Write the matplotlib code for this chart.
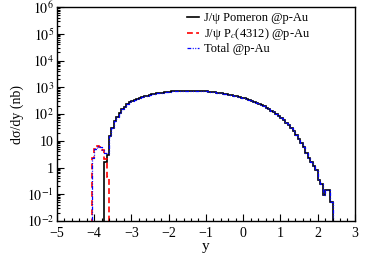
import numpy as np
import matplotlib
matplotlib.use("Agg")
import matplotlib.pyplot as plt
from matplotlib.ticker import FixedLocator, LogLocator, NullFormatter, MultipleLocator

plt.rcParams['font.family'] = ['Liberation Serif', 'DejaVu Serif']
plt.rcParams['mathtext.fontset'] = 'stix'

# binning of the histograms (120 bins over -5..3)
y_min, y_max, n_bins = -5.0, 3.0, 120

# J/psi Pomeron: first non-empty bin index and values
pom_start = 19
pom_values = [
    1.6, 3.0, 15, 30, 55, 80, 110, 150, 185, 230,
    270, 300, 335, 370, 400, 430, 460, 490, 515, 540,
    565, 590, 610, 630, 650, 665, 680, 695, 705, 715,
    725, 732, 738, 742, 745, 745, 742, 738, 730, 720,
    708, 695, 680, 665, 648, 630, 612, 592, 572, 550,
    528, 505, 482, 460, 435, 410, 385, 360, 335, 310,
    285, 262, 238, 215, 193, 172, 152, 133, 116, 100,
    86, 72, 60, 47, 38, 30, 23, 17, 12, 8.5,
    6.0, 3.5, 2.2, 1.6, 1.1, 0.8, 0.35, 0.25, 0.09, 0.15,
    0.15, 0.05,
]

# J/psi Pc(4312): first non-empty bin index and values
pc_start = 14
pc_values = [2.2, 4.8, 6.3, 6.0, 4.5, 2.0, 0.45]

legend_labels = ["J/\u03c8 Pomeron @p-Au", "J/\u03c8 P$_{c}$(4312) @p-Au", "Total @p-Au"]
ytick_vals = [1e-2, 1e-1, 1, 10, 1e2, 1e3, 1e4, 1e5, 1e6]
ytick_labels = ["$10^{-2}$", "$10^{-1}$", "1", "10", "$10^{2}$", "$10^{3}$",
                "$10^{4}$", "$10^{5}$", "$10^{6}$"]
xtick_vals = [-5, -4, -3, -2, -1, 0, 1, 2, 3]
xtick_labels = ["\u22125", "\u22124", "\u22123", "\u22122", "\u22121", "0", "1", "2", "3"]

edges = np.linspace(y_min, y_max, n_bins + 1)
pom = np.zeros(n_bins)
pom[pom_start:pom_start + len(pom_values)] = pom_values
pc = np.zeros(n_bins)
pc[pc_start:pc_start + len(pc_values)] = pc_values
total = pom + pc

def clip(v):
    return np.where(v > 0, v, 1e-6)

fig = plt.figure(figsize=(3.74, 2.6), dpi=100)
ax = fig.add_axes([0.152, 0.15, 0.797, 0.823])

ax.stairs(clip(pom), edges, color='black', lw=1.2, label=legend_labels[0])
ax.stairs(clip(pc), edges, color='#ff0000', lw=1.2, ls=(0, (3.5, 2)), label=legend_labels[1])
ax.stairs(clip(total), edges, color='#0000ff', lw=0.9, ls=(0, (3, 1.2, 0.8, 1.2, 0.8, 1.2)),
          label=legend_labels[2])

ax.set_yscale('log')
ax.set_xlim(y_min, y_max)
ax.set_ylim(1e-2, 1e6)

ax.yaxis.set_major_locator(FixedLocator(ytick_vals))
ax.set_yticklabels(ytick_labels)
ax.yaxis.set_minor_locator(LogLocator(base=10, subs=np.arange(2, 10), numticks=20))
ax.yaxis.set_minor_formatter(NullFormatter())
ax.set_xticks(xtick_vals)
ax.set_xticklabels(xtick_labels)
ax.xaxis.set_minor_locator(MultipleLocator(0.2))

ax.tick_params(axis='both', which='major', direction='in', length=5, width=0.8,
               labelsize=10, top=False, right=False)
ax.tick_params(axis='x', which='major', pad=4.5)
ax.tick_params(axis='y', which='major', pad=2)
ax.tick_params(axis='both', which='minor', direction='in', length=2.4, width=0.8,
               top=False, right=False)
for s in ax.spines.values():
    s.set_linewidth(1.0)

ax.set_ylabel("d\u03c3/dy (nb)", fontsize=10, labelpad=2)
ax.set_xlabel("y", fontsize=11, labelpad=0)

leg = ax.legend(loc='upper left', bbox_to_anchor=(0.41, 1.01), frameon=False,
                fontsize=9, handlelength=1.0, handletextpad=0.4, labelspacing=0.12,
                borderaxespad=0.2)

fig.savefig("out.png", dpi=100)
